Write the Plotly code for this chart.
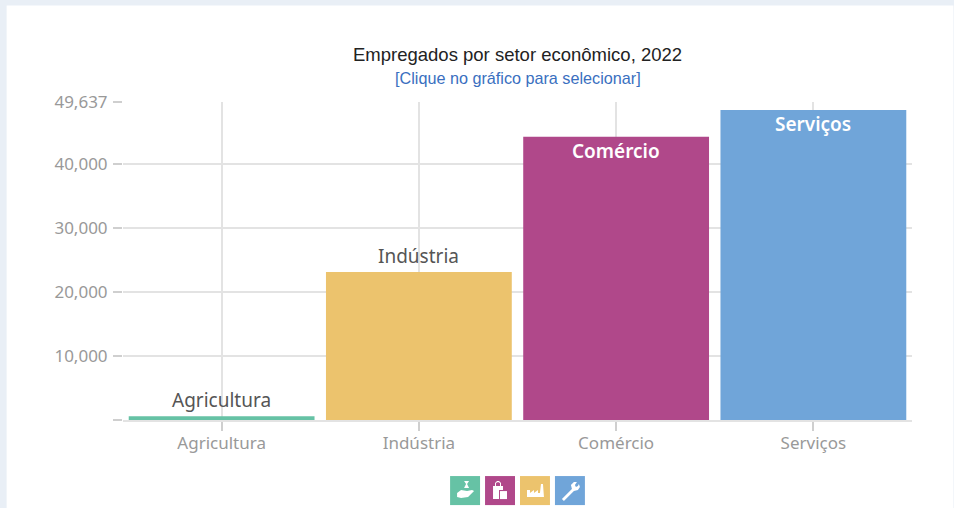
import plotly.graph_objects as go

categories = ["Agricultura", "Indústria", "Comércio", "Serviços"]
values = [600, 23100, 44200, 48400]
bar_colors = ["#66c2a5", "#ecc36d", "#b0488a", "#70a5d9"]
icon_colors = ["#66c2a5", "#b0488a", "#ecc36d", "#70a5d9"]
label_colors = ["#555555", "#555555", "#ffffff", "#ffffff"]
label_inside = [False, False, True, True]
y_ticks = [0, 10000, 20000, 30000, 40000, 49637]
y_tick_labels = ["", "10,000", "20,000", "30,000", "40,000", "49,637"]
title_text = "Empregados por setor econômico, 2022"
subtitle_text = "[Clique no gráfico para selecionar]"

W, H = 954, 508
L, R, T, B = 122.5, 912.5, 102.3, 420.0
FONT = "Noto Sans, sans-serif"
ARIAL = "Liberation Sans, Arial, sans-serif"


def px(x):
    return (x - L) / (R - L)


def py(y):
    return (B - y) / (B - T)


def path(points, close=True):
    parts = [("M" if i == 0 else "L") + f"{px(x):.5f},{py(y):.5f}" for i, (x, y) in enumerate(points)]
    return " ".join(parts) + (" Z" if close else "")


fig = go.Figure(
    go.Bar(
        x=categories,
        y=values,
        width=0.942,
        marker=dict(color=bar_colors, line=dict(width=0)),
        cliponaxis=False,
        hoverinfo="x+y",
    )
)

shapes = [
    dict(type="rect", xref="paper", yref="paper", x0=px(6), x1=px(954), y0=py(6), y1=py(508),
         fillcolor="#ffffff", line_width=0, layer="below")
]
icon_left = [450, 485, 520, 555]
for left, color in zip(icon_left, icon_colors):
    shapes.append(dict(type="rect", xref="paper", yref="paper", x0=px(left), x1=px(left + 30),
                       y0=py(476), y1=py(505), fillcolor=color, line_width=0))

white = dict(xref="paper", yref="paper", fillcolor="#ffffff", line_width=0)
shapes += [
    # hand holding a sack
    dict(type="path", path=path([(464, 481), (469, 481), (467, 484), (469, 488), (464, 488), (466, 484)]), **white),
    dict(type="path", path=path([(457, 493), (461, 490), (467, 491), (472, 490), (474, 491), (468, 497), (461, 498), (457, 497)]), **white),
    # shopping bags
    dict(type="path", path=path([(493, 486), (503, 486), (503, 490), (499, 490), (499, 499), (493, 499)]), **white),
    dict(type="path", path=path([(500, 491), (507, 491), (507, 499), (500, 499)]), **white),
    dict(type="path", path=path([(495, 486), (495, 483), (497, 481), (499, 481), (501, 483), (501, 486), (500, 486), (500, 483), (498, 482), (496, 483), (496, 486)]), **white),
    # factory
    dict(type="path", path=path([(527, 497), (527, 490), (530, 490), (530, 493), (534, 490), (534, 493), (538, 490), (538, 493), (540, 493), (541, 484), (543, 484), (544, 497)]), **white),
    # wrench
    dict(type="path", path=path([(562, 499), (572, 489), (571, 485), (574, 482), (577, 482), (575, 485), (576, 487), (578, 486), (579, 484), (580, 487), (578, 490), (574, 491), (564, 501)]), **white),
]

annotations = [
    dict(text=title_text, xref="paper", yref="paper", x=px(517.5), y=py(54.5), xanchor="center",
         yanchor="middle", showarrow=False, font=dict(family=ARIAL, size=18.5, color="#222222")),
    dict(text=subtitle_text, xref="paper", yref="paper", x=px(517.5), y=py(78.5), xanchor="center",
         yanchor="middle", showarrow=False, font=dict(family=ARIAL, size=16.2, color="#3a6fc0")),
]
for cat, val, col, inside in zip(categories, values, label_colors, label_inside):
    annotations.append(
        dict(text=cat, x=cat, y=val, xref="x", yref="y", xanchor="center", yanchor="middle",
             yshift=-14 if inside else 16.5, showarrow=False,
             font=dict(family=FONT, size=19, color=col, weight=600 if inside else 400))
    )

fig.update_layout(
    width=W,
    height=H,
    margin=dict(l=L, r=W - R, t=T, b=H - B, pad=0),
    paper_bgcolor="#e9eff6",
    plot_bgcolor="#ffffff",
    showlegend=False,
    shapes=shapes,
    annotations=annotations,
    xaxis=dict(
        range=[-0.5, 3.5],
        showgrid=True,
        gridcolor="#e3e3e3",
        gridwidth=1.5,
        ticks="outside",
        ticklen=9,
        tickwidth=1.5,
        tickcolor="#cfcfcf",
        showline=True,
        linecolor="#e3e3e3",
        linewidth=1.5,
        ticklabelstandoff=-2,
        tickfont=dict(family=FONT, size=17, color="#999999"),
        fixedrange=True,
    ),
    yaxis=dict(
        range=[0, 49637],
        tickmode="array",
        tickvals=y_ticks,
        ticktext=y_tick_labels,
        showgrid=True,
        gridcolor="#e3e3e3",
        gridwidth=1.5,
        ticks="outside",
        ticklen=9,
        tickwidth=1.5,
        tickcolor="#cfcfcf",
        ticklabelstandoff=2,
        zeroline=False,
        tickfont=dict(family=FONT, size=17, color="#999999"),
        fixedrange=True,
    ),
)

fig.write_html("out.html", config={"displayModeBar": False},
               post_script="document.body.style.margin='0';")
